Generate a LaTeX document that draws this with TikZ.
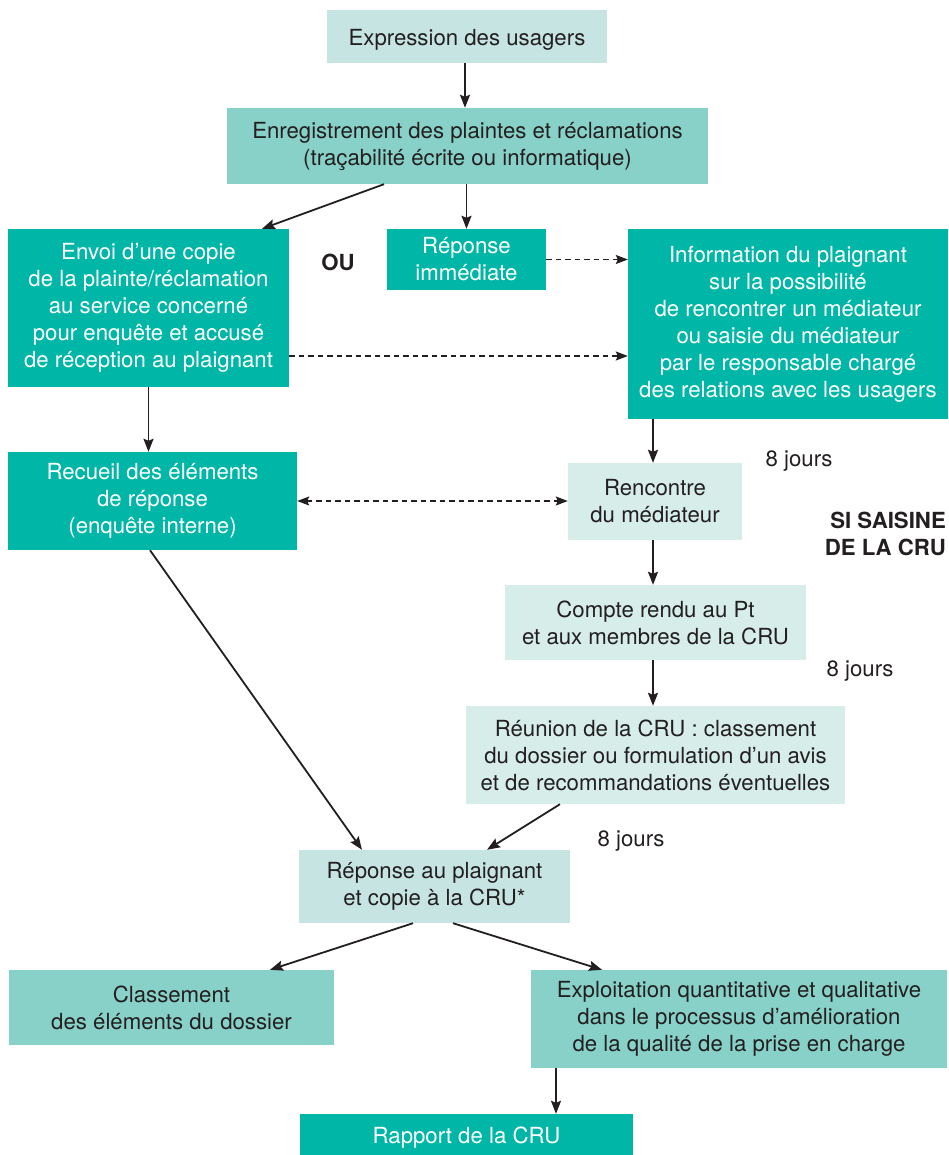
\documentclass[tikz,border=0pt]{standalone}
\usepackage{fontspec}
\setmainfont{TeX Gyre Heros}
\usetikzlibrary{arrows.meta}
\definecolor{tealS}{HTML}{00B6A6}
\definecolor{tealM}{HTML}{88D1C8}
\definecolor{tealL}{HTML}{C6E5E2}
\definecolor{tealXL}{HTML}{D6EDEA}
\definecolor{ink}{HTML}{231F20}
\tikzset{
  box/.style={inner sep=0pt, align=center, font=\fontsize{22.2}{27}\selectfont, text=ink,
    execute at begin node={\rule{0pt}{23pt}}},
  boxS/.style={box, fill=tealS, text=white},
  boxM/.style={box, fill=tealM},
  boxL/.style={box, fill=tealL},
  boxXL/.style={box, fill=tealXL},
  arr/.style={draw=ink, line width=1.8pt, -{Stealth[length=13pt,width=10pt,inset=2pt]}},
  darr/.style={draw=ink, line width=1.3pt, dash pattern=on 5.5pt off 4pt, -{Stealth[length=12pt,width=9pt,inset=2pt]}},
  lbl/.style={inner sep=0pt, text=ink, font=\fontsize{22.2}{27}\selectfont},
  blbl/.style={inner sep=0pt, text=ink, font=\fontsize{22.2}{27}\selectfont\bfseries},
}
\begin{document}
\begin{tikzpicture}[x=1pt,y=-1pt]
\useasboundingbox (0,0) rectangle (948,1155);
\fill[white] (0,0) rectangle (948,1155);

\node[boxL, minimum width=280pt, minimum height=53pt] (expr) at (467,36.5) {Expression des usagers};
\node[boxM, minimum width=481pt, minimum height=76pt] (enr) at (467.5,146) {Enregistrement des plaintes et réclamations\\(traçabilité écrite ou informatique)};
\node[boxS, minimum width=281pt, minimum height=158pt] (envoi) at (148.5,308) {Envoi d’une copie\\de la plainte/réclamation\\au service concerné\\pour enquête et accusé\\de réception au plaignant};
\node[boxS, minimum width=159pt, minimum height=61pt] (repimm) at (466.5,259.5) {Réponse\\immédiate};
\node[boxS, minimum width=320pt, minimum height=190pt] (info) at (788,324) {Information du plaignant\\sur la possibilité\\de rencontrer un médiateur\\ou saisie du médiateur\\par le responsable chargé\\des relations avec les usagers};
\node[boxS, minimum width=289pt, minimum height=98pt] (recueil) at (152.5,501) {Recueil des éléments\\de réponse\\(enquête interne)};
\node[boxXL, minimum width=174pt, minimum height=77pt] (renc) at (655,501.5) {Rencontre\\du médiateur};
\node[boxXL, minimum width=301pt, minimum height=75pt] (compte) at (655.5,622.5) {Compte rendu au Pt\\et aux membres de la CRU};
\node[boxXL, minimum width=379pt, minimum height=98pt] (reunion) at (655.5,755) {Réunion de la CRU : classement\\du dossier ou formulation d’un avis\\et de recommandations éventuelles};
\node[boxL, minimum width=271pt, minimum height=73pt] (repplaig) at (434.5,886.5) {Réponse au plaignant\\et copie à la CRU*};
\node[boxM, minimum width=325pt, minimum height=75pt] (classt) at (171.5,1007.5) {Classement\\des éléments du dossier};
\node[boxM, minimum width=416pt, minimum height=98pt] (exploit) at (739,1019) {Exploitation quantitative et qualitative\\dans le processus d’amélioration\\de la qualité de la prise en charge};
\node[boxS, minimum width=333pt, minimum height=41pt] (rapport) at (466.5,1134.5) {Rapport de la CRU};

\node[blbl] (ou) at (338,262) {OU};
\node[lbl] (j1) at (799,461) {8 jours};
\node[lbl] (j2) at (860,671) {8 jours};
\node[lbl] (j3) at (631,841) {8 jours};
\node[blbl, align=right, anchor=east] (si) at (946,533.5) {SI SAISINE\\DE LA CRU};

\draw[arr] ([xshift=-2pt]expr.south) -- ([xshift=-2.5pt]enr.north);
\draw[arr] ([xshift=-83.5pt]enr.south) -- ([xshift=113.5pt]envoi.north);
\draw[arr] (repimm.north |- enr.south) -- (repimm.north);
\draw[darr] (repimm.east) -- (repimm.east -| info.west);
\draw[darr] ([yshift=-48pt]envoi.east) coordinate (e1) -- (e1 -| info.west);
\draw[arr] (envoi.south) -- (envoi.south |- recueil.north);
\draw[arr] ([xshift=-2pt]renc.north |- info.south) -- ([xshift=-2pt]renc.north);
\draw[darr, {Stealth[length=12pt,width=9pt,inset=2pt]}-{Stealth[length=12pt,width=9pt,inset=2pt]}] (recueil.east) -- (recueil.east -| renc.west);
\draw[arr] ([xshift=-2.5pt]recueil.south) -- ([xshift=-72.5pt]repplaig.north);
\draw[arr] ([xshift=-2pt]renc.south) -- ([xshift=-2.5pt]compte.north);
\draw[arr] ([xshift=-2.5pt]compte.south) -- ([xshift=-2.5pt]reunion.north);
\draw[arr] ([xshift=-95.5pt]reunion.south) -- ([xshift=52.5pt]repplaig.north);
\draw[arr] ([xshift=-21.5pt]repplaig.south) -- ([xshift=98.5pt]classt.north);
\draw[arr] ([xshift=18.5pt]repplaig.south) -- ([xshift=-137pt]exploit.north);
\draw[arr] ([xshift=-183pt]exploit.south) -- ([xshift=89.5pt]rapport.north);
\end{tikzpicture}
\end{document}
